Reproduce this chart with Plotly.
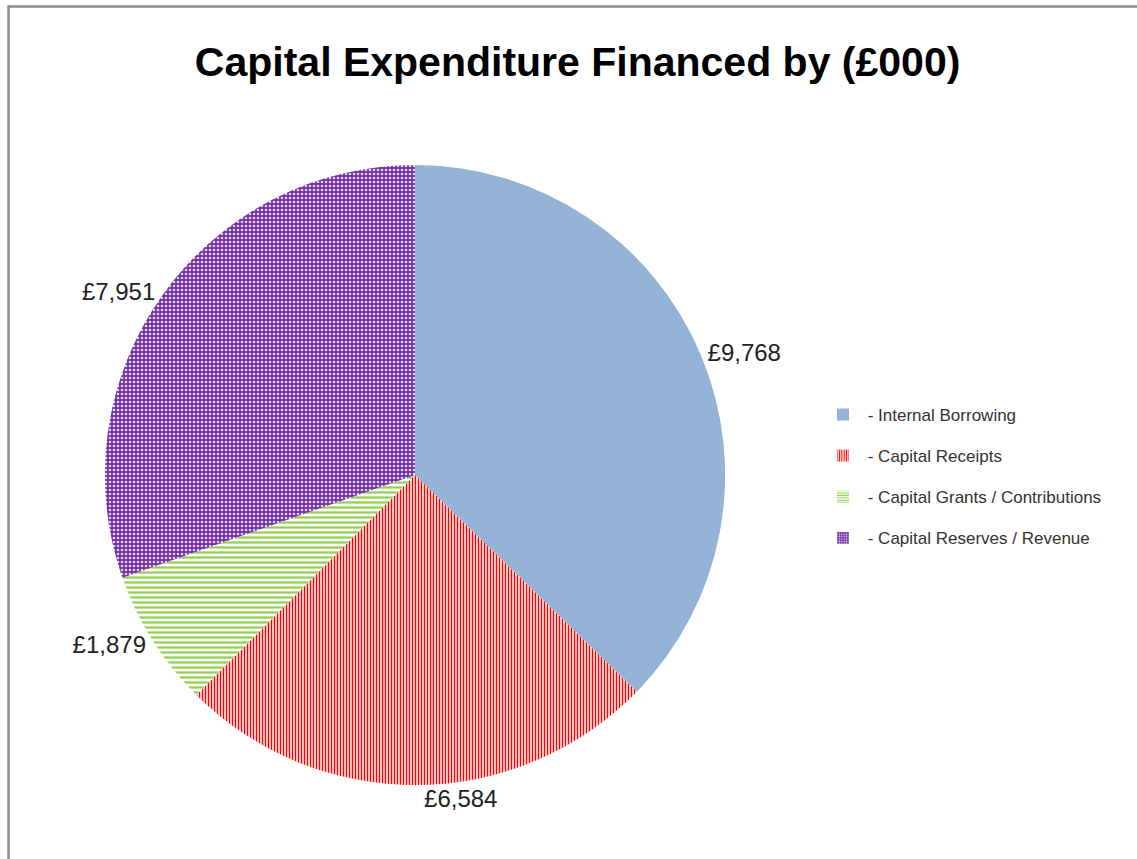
import plotly.graph_objects as go

categories = [" - Internal Borrowing", " - Capital Receipts", " - Capital Grants / Contributions", " - Capital Reserves / Revenue"]
values = [9768, 6584, 1879, 7951]
bg_colors = ["#95B3D7", "#FFFFFF", "#FFFFFF", "#7030A0"]
fg_colors = ["#95B3D7", "#FF0000", "#92D050", "#E6D0F5"]
shapes = ["", "|", "-", "."]
sizes = [4, 3, 5, 4]
solidities = [0.5, 0.5, 0.45, 0.35]

W, H = 1137, 859

fig = go.Figure()
fig.add_trace(go.Pie(
    labels=categories,
    values=values,
    sort=False,
    direction="clockwise",
    rotation=0,
    marker=dict(
        colors=bg_colors,
        line=dict(width=0),
        pattern=dict(shape=shapes, fgcolor=fg_colors, bgcolor=bg_colors,
                     size=sizes, solidity=solidities, fillmode="replace"),
    ),
    texttemplate="£%{value:,}",
    textposition="outside",
    outsidetextfont=dict(family="Liberation Sans, Arial", size=24, color="#222222"),
    domain=dict(x=[0.08, 0.65], y=[0.086, 0.808]),
    hoverinfo="label+value",
    showlegend=False,
))

# legend entries (one per category), drawn as empty bar traces so gaps can be set
for i, cat in enumerate(categories):
    fig.add_trace(go.Bar(
        x=[None], y=[None], name=cat, legendgroup=cat,
        marker=dict(color=bg_colors[i], line=dict(width=0),
                    pattern=dict(shape=shapes[i], fgcolor=fg_colors[i], bgcolor=bg_colors[i],
                                 size=3, solidity=solidities[i], fillmode="replace")),
        showlegend=True,
    ))

fig.update_layout(
    width=W, height=H,
    margin=dict(l=0, r=0, t=0, b=0),
    paper_bgcolor="white",
    plot_bgcolor="white",
    xaxis=dict(visible=False, domain=[0.99, 1]),
    yaxis=dict(visible=False, domain=[0.99, 1]),
    title=dict(
        text="<b>Capital Expenditure Financed by (£000)</b>",
        x=0.508, xanchor="center",
        y=1 - 62 / H, yanchor="middle",
        font=dict(family="Liberation Sans, Arial", size=41, color="black"),
    ),
    legend=dict(
        x=823 / W, xanchor="left",
        y=1 - 397 / H, yanchor="top",
        font=dict(family="Liberation Sans, Arial", size=17, color="#333333"),
        itemsizing="constant",
        tracegroupgap=16,
        bgcolor="rgba(0,0,0,0)",
    ),
    shapes=[
        dict(type="rect", xref="paper", yref="paper",
             x0=8.5 / W, x1=1.02, y0=-0.02, y1=1 - 6.5 / H,
             line=dict(color="#8C8C8C", width=2.5), fillcolor="rgba(0,0,0,0)"),
    ],
)

fig.write_html("out.html")
